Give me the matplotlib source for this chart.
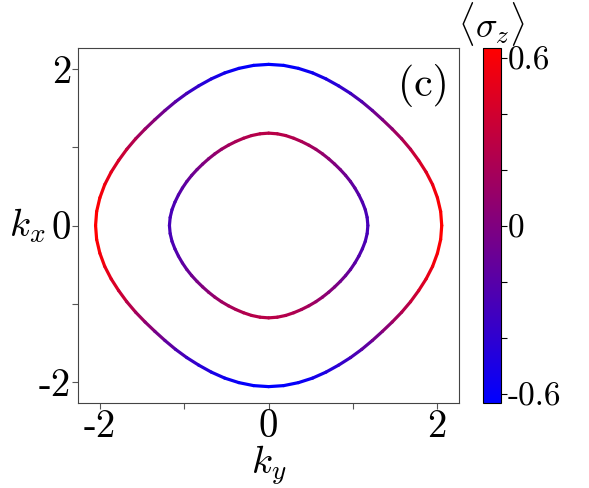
import numpy as np
import matplotlib
matplotlib.use('Agg')
import matplotlib.pyplot as plt
from matplotlib.collections import LineCollection
from matplotlib.colors import LinearSegmentedColormap, Normalize
from matplotlib.ticker import FixedLocator

plt.rcParams['font.family'] = 'cmr10'
plt.rcParams['mathtext.fontset'] = 'cm'
plt.rcParams['axes.unicode_minus'] = False

# angle from the k_y axis, one quadrant (the rest follows by mirror symmetry)
phi_deg = [0, 5, 10, 15, 20, 25, 30, 35, 40, 45, 50, 55, 60, 65, 70, 75, 80, 85, 90]

outer_r = [2.055, 2.050, 2.035, 2.015, 1.990, 1.965, 1.945, 1.928, 1.915, 1.910,
           1.915, 1.928, 1.945, 1.965, 1.990, 2.015, 2.035, 2.050, 2.055]
outer_sz = [0.634, 0.625, 0.596, 0.549, 0.486, 0.408, 0.317, 0.217, 0.110, 0.0,
            -0.110, -0.217, -0.317, -0.408, -0.486, -0.549, -0.596, -0.625, -0.634]

inner_r = [1.178, 1.174, 1.165, 1.152, 1.140, 1.130, 1.122, 1.115, 1.110, 1.108,
           1.110, 1.115, 1.122, 1.130, 1.140, 1.152, 1.165, 1.174, 1.178]
inner_sz = [-0.280, -0.276, -0.263, -0.242, -0.214, -0.180, -0.140, -0.096, -0.049, 0.0,
            0.049, 0.096, 0.140, 0.180, 0.214, 0.242, 0.263, 0.276, 0.280]

xticks = [-2, 0, 2]
xtick_labels = ['-2', '0', '2']
cb_ticks = [-0.6, 0, 0.6]
cb_labels = ['-0.6', '0', '0.6']
sz_min, sz_max = -0.634, 0.634

cmap = LinearSegmentedColormap.from_list('bluered', ['#0000ff', '#ff0000'])
norm = Normalize(sz_min, sz_max)


def full_loop(radius, sz):
    # unfold the quadrant table onto the whole circle
    step = phi_deg[1] - phi_deg[0]
    angles = np.arange(0, 361, step)
    r_all, s_all = [], []
    for a in angles:
        b = a % 180
        if b > 90:
            b = 180 - b
        i = phi_deg.index(b)
        r_all.append(radius[i])
        s_all.append(sz[i])
    t = np.deg2rad(angles)
    r_all = np.array(r_all)
    ky = r_all * np.cos(t)
    kx = r_all * np.sin(t)
    return ky, kx, np.array(s_all)


def add_loop(ax, radius, sz):
    ky, kx, s = full_loop(radius, sz)
    pts = np.column_stack([ky, kx]).reshape(-1, 1, 2)
    segs = np.concatenate([pts[:-1], pts[1:]], axis=1)
    lc = LineCollection(segs, cmap=cmap, norm=norm, linewidth=2.3, capstyle='round')
    lc.set_array(0.5 * (s[:-1] + s[1:]))
    ax.add_collection(lc)


fig = plt.figure(figsize=(5.89, 4.88), dpi=100)
ax = fig.add_axes([78.3 / 589, 1 - 402.7 / 488, 380.7 / 589, 354.4 / 488])

add_loop(ax, outer_r, outer_sz)
add_loop(ax, inner_r, inner_sz)

ax.set_xlim(-2.26, 2.26)
ax.set_ylim(-2.26, 2.26)
ax.set_xticks(xticks, xtick_labels)
ax.set_yticks(xticks, xtick_labels)
ax.xaxis.set_minor_locator(FixedLocator([-1, 1]))
ax.yaxis.set_minor_locator(FixedLocator([-1, 1]))
ax.tick_params(which='both', direction='out', length=4, width=0.8, color='#555555',
               labelsize=28, pad=1)
for s in ax.spines.values():
    s.set_color('#444444')
    s.set_linewidth(0.8)

ax.set_xlabel(r'$k_y$', fontsize=28)
ax.xaxis.set_label_coords(0.5, -0.115)
ax.set_ylabel(r'$k_x$', fontsize=28, rotation=0, va='center', ha='center')
ax.yaxis.set_label_coords(-0.135, 0.5)

ax.text(0.972, 0.955, '(c)', transform=ax.transAxes, ha='right', va='top', fontsize=30)

cax = fig.add_axes([483 / 589, 1 - 403.3 / 488, 17.6 / 589, 355 / 488])
sm = plt.cm.ScalarMappable(norm=norm, cmap=cmap)
cb = fig.colorbar(sm, cax=cax, ticks=cb_ticks)
cb.set_ticklabels(cb_labels)
cb.ax.yaxis.set_minor_locator(FixedLocator([-0.4, -0.2, 0.2, 0.4]))
cb.ax.tick_params(which='both', length=4, width=0.8, labelsize=24, pad=1)
cb.outline.set_linewidth(0.8)
cb.ax.set_title(r'$\langle\sigma_z\rangle$', fontsize=26, pad=2)

fig.savefig('out.png', dpi=100)
